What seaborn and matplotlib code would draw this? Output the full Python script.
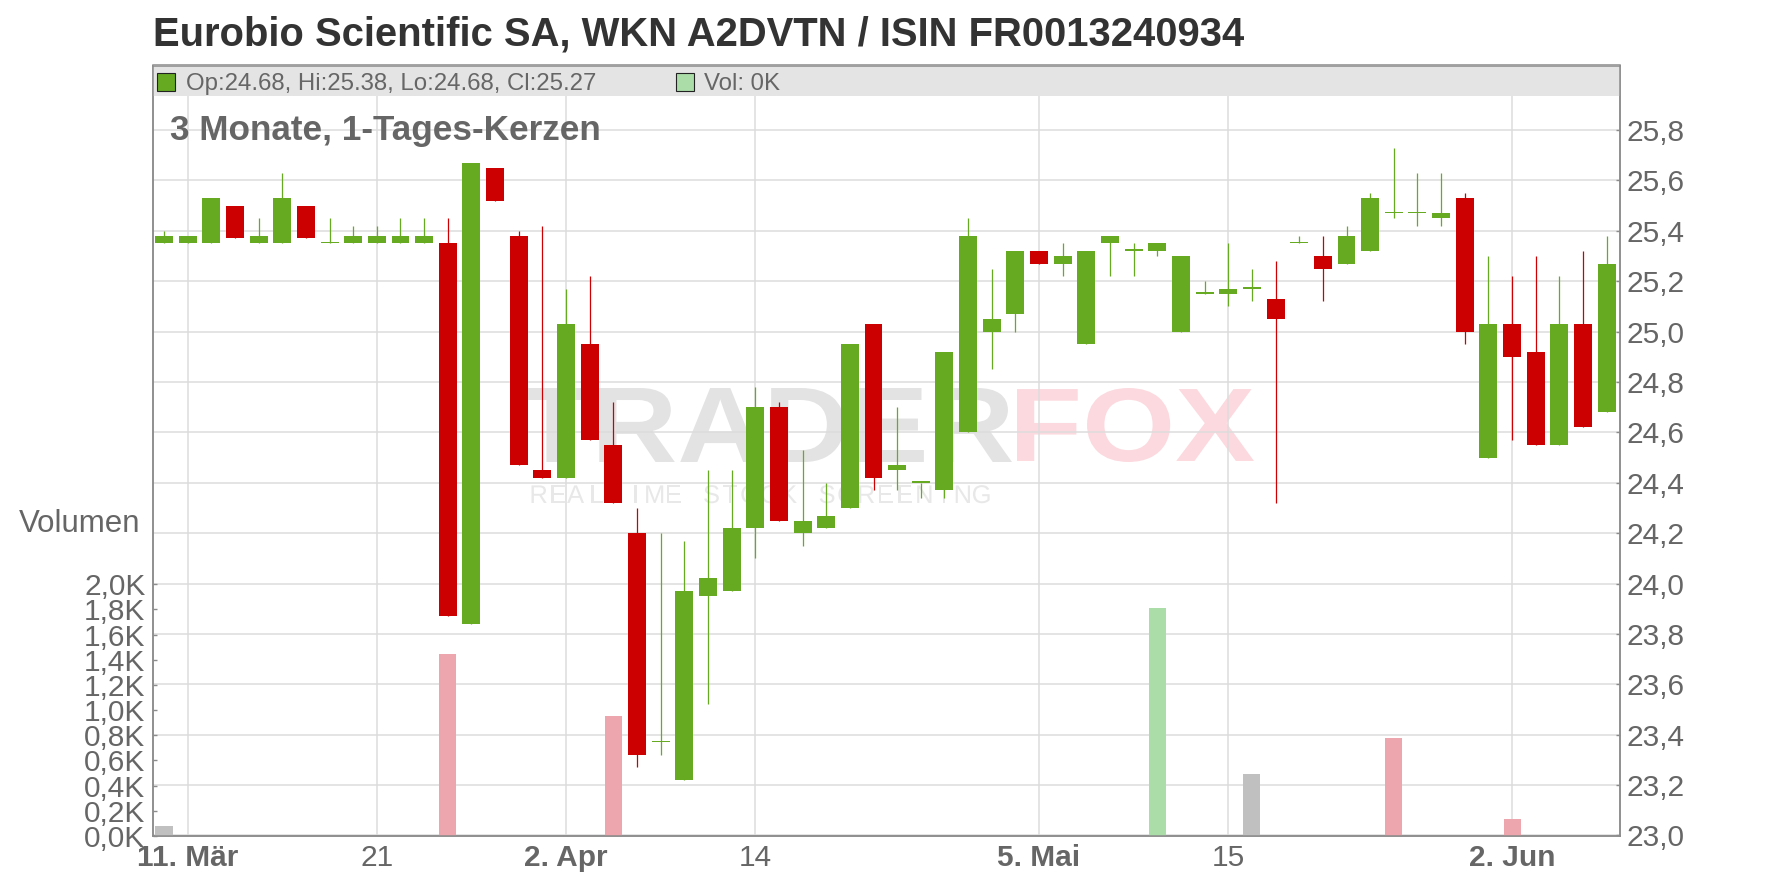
import numpy as np
import pandas as pd
import matplotlib
matplotlib.use("Agg")
import matplotlib.pyplot as plt
import seaborn as sns
from matplotlib.patches import Rectangle, PathPatch
from matplotlib.textpath import TextPath
from matplotlib.font_manager import FontProperties
from matplotlib.transforms import Affine2D

# ---------------- data ----------------
opens = [25.35, 25.35, 25.35, 25.50, 25.35, 25.35, 25.50, 25.35, 25.35, 25.35,
         25.35, 25.35, 25.35, 23.84, 25.65, 25.38, 24.45, 24.42, 24.95, 24.55,
         24.20, 23.37, 23.22, 23.95, 23.97, 24.22, 24.70, 24.20, 24.22, 24.30,
         25.03, 24.45, 24.40, 24.37, 24.60, 25.00, 25.07, 25.32, 25.27, 24.95,
         25.35, 25.32, 25.32, 25.00, 25.15, 25.15, 25.17, 25.13, 25.35, 25.30,
         25.27, 25.32, 25.47, 25.47, 25.45, 25.53, 24.50, 25.03, 24.92, 24.55,
         25.03, 24.68]
highs = [25.40, 25.38, 25.53, 25.50, 25.45, 25.63, 25.50, 25.45, 25.42, 25.42,
         25.45, 25.45, 25.45, 25.67, 25.65, 25.40, 25.42, 25.17, 25.22, 24.72,
         24.30, 24.20, 24.17, 24.45, 24.45, 24.78, 24.72, 24.53, 24.40, 24.95,
         25.03, 24.70, 24.40, 24.92, 25.45, 25.25, 25.32, 25.32, 25.35, 25.32,
         25.38, 25.35, 25.35, 25.30, 25.20, 25.35, 25.25, 25.28, 25.38, 25.38,
         25.42, 25.55, 25.73, 25.63, 25.63, 25.55, 25.30, 25.22, 25.30, 25.22,
         25.32, 25.38]
lows = [25.35, 25.35, 25.35, 25.37, 25.35, 25.35, 25.37, 25.35, 25.35, 25.35,
        25.35, 25.35, 23.87, 23.84, 25.52, 24.47, 24.42, 24.42, 24.57, 24.32,
        23.27, 23.32, 23.22, 23.52, 23.97, 24.10, 24.25, 24.15, 24.22, 24.30,
        24.37, 24.37, 24.34, 24.34, 24.60, 24.85, 25.00, 25.27, 25.22, 24.95,
        25.22, 25.22, 25.30, 25.00, 25.15, 25.10, 25.12, 24.32, 25.35, 25.12,
        25.27, 25.32, 25.45, 25.42, 25.42, 24.95, 24.50, 24.57, 24.55, 24.55,
        24.62, 24.68]
closes = [25.38, 25.38, 25.53, 25.37, 25.38, 25.53, 25.37, 25.35, 25.38, 25.38,
          25.38, 25.38, 23.87, 25.67, 25.52, 24.47, 24.42, 25.03, 24.57, 24.32,
          23.32, 23.37, 23.97, 24.02, 24.22, 24.70, 24.25, 24.25, 24.27, 24.95,
          24.42, 24.47, 24.40, 24.92, 25.38, 25.05, 25.32, 25.27, 25.30, 25.32,
          25.38, 25.32, 25.35, 25.30, 25.15, 25.17, 25.17, 25.05, 25.35, 25.25,
          25.38, 25.53, 25.47, 25.47, 25.47, 25.00, 25.03, 24.90, 24.55, 25.03,
          24.62, 25.27]

vol_days = [0, 12, 19, 42, 46, 52, 57]
vol_values = [80, 1450, 950, 1810, 490, 780, 135]

date_ticks = [1, 9, 17, 25, 37, 45, 57]
date_labels = ["11. Mär", "21", "2. Apr", "14", "5. Mai", "15", "2. Jun"]
date_bold = [True, False, True, False, True, False, True]

price_ticks = [23.0, 23.2, 23.4, 23.6, 23.8, 24.0, 24.2, 24.4, 24.6, 24.8,
               25.0, 25.2, 25.4, 25.6, 25.8]
vol_ticks = [0, 200, 400, 600, 800, 1000, 1200, 1400, 1600, 1800, 2000]

title = "Eurobio Scientific SA, WKN A2DVTN / ISIN FR0013240934"
subtitle = "3 Monate, 1-Tages-Kerzen"
legend_ohlc = "Op:24.68, Hi:25.38, Lo:24.68, Cl:25.27"
legend_vol = "Vol: 0K"
vol_label = "Volumen"

# ---------------- style ----------------
sns.set_style("white")
plt.rcParams['font.family'] = ['Liberation Sans', 'DejaVu Sans']

GREEN = "#66aa22"
RED = "#cc0000"
VOL_COLORS = {"up": "#aadda8", "down": "#eda5ae", "flat": "#c0c0c0"}
GRID = "#dcdcdc"
SPINE = "#8c8c8c"
TXT = "#666666"

W, H = 1776, 888
fig = plt.figure(figsize=(W / 100, H / 100), dpi=100)

L, R, T, B = 152.5, 1620, 65.5, 836
ax = fig.add_axes([L / W, 1 - B / H, (R - L) / W, (B - T) / H])

n = len(opens)
idx = np.arange(n)
o = np.array(opens); c = np.array(closes)
hi = np.array(highs); lo = np.array(lows)
up = c >= o
cols = np.where(up, GREEN, RED)

# grid
ax.set_yticks(price_ticks)
ax.set_xticks(date_ticks)
ax.grid(True, color=GRID, linewidth=1.1, zorder=0)
ax.set_axisbelow(True)

# watermark (layout only, drawn beneath the axes)
def wm(text, x0, x1, ytop, ybot, color, weight='bold'):
    tp = TextPath((0, 0), text, size=1, prop=FontProperties(family='Liberation Sans', weight=weight))
    ext = tp.get_extents()
    sx = (x1 - x0) / ext.width
    sy = (ybot - ytop) / ext.height
    tr = Affine2D().translate(-ext.x0, -ext.y0).scale(sx / 100, sy / 100).translate(x0 / 100, (H - ybot) / 100)
    fig.patches.append(PathPatch(tp, transform=tr + fig.dpi_scale_trans, facecolor=color,
                                 edgecolor='none', zorder=-5))

wm("TRADER", 520, 1012, 388, 462, "#e3e3e3")
wm("FOX", 1017, 1254, 388, 462, "#fcd9de")
letters = "REALTIME STOCK SCREENING"
x = 537
step = (980 - 537) / (len(letters) - 1)
for ch in letters:
    if ch != " ":
        tp = TextPath((0, 0), ch, size=1, prop=FontProperties(family='Liberation Sans'))
        e = tp.get_extents()
        s = 18.3 / 0.716
        tr = Affine2D().scale(s / 100, s / 100).translate((x - e.width * s / 2) / 100, (H - 503) / 100)
        fig.patches.append(PathPatch(tp, transform=tr + fig.dpi_scale_trans, facecolor="#e8e8e8",
                                     edgecolor='none', zorder=-5))
    x += step

ax.patch.set_alpha(0)
fig.patch.set_facecolor("white")

# candles
ax.vlines(idx, lo, hi, colors=cols, linewidth=0.9, zorder=3)
body_h = np.maximum(np.abs(c - o), 0.006)
ax.bar(idx, body_h, bottom=np.minimum(o, c), width=0.76, color=cols, linewidth=0, zorder=4)

ax.set_xlim(-0.486, 61.564)
ax.set_ylim(22.998, 26.056)

# legend band
ax.add_patch(Rectangle((0, (B - 95.7) / (B - T)), 1, 1 - (B - 95.7) / (B - T),
                       transform=ax.transAxes, facecolor="#e4e4e4", edgecolor='none', zorder=5))

# volume axis
axv = ax.twinx()
vols = np.zeros(n)
vols[vol_days] = vol_values
prev = np.r_[np.nan, c[:-1]]
vdir = np.where(np.isnan(prev) | np.isclose(c, prev), "flat", np.where(c > prev, "up", "down"))
df = pd.DataFrame({"day": idx, "vol": vols, "dir": vdir})
sns.barplot(data=df, x="day", y="vol", hue="dir", palette=VOL_COLORS, native_scale=True,
            dodge=False, width=0.72, errorbar=None, legend=False, ax=axv, linewidth=0,
            saturation=1)
axv.set_xlim(-0.486, 61.564)
axv.set_ylim(0, (B - T) * 2000 / 251.7)
axv.set_xlabel(""); axv.set_ylabel("")

# ticks
ax.yaxis.tick_right()
ax.set_yticklabels([f"{v:.1f}".replace(".", ",") for v in price_ticks])
ax.tick_params(axis='y', direction='in', length=3.2, width=1, color=SPINE, pad=5,
               labelsize=21.5, labelcolor=TXT, right=True, left=False)
ax.set_xticklabels(date_labels)
for lab, b in zip(ax.get_xticklabels(), date_bold):
    lab.set_fontweight('bold' if b else 'normal')
ax.tick_params(axis='x', direction='out', length=2.5, width=1, color=SPINE, pad=3,
               labelsize=21.5, labelcolor=TXT)

axv.yaxis.tick_left()
axv.set_yticks(vol_ticks)
axv.set_yticklabels([f"{v/1000:.1f}K".replace(".", ",") for v in vol_ticks])
axv.tick_params(axis='y', direction='in', length=3.2, width=1, color=SPINE, pad=5,
                labelsize=21.5, labelcolor=TXT, left=True, right=False)
axv.grid(False)

for a in (ax, axv):
    for s in a.spines.values():
        s.set_color(SPINE)
        s.set_linewidth(1.1)
        s.set_visible(True)

# texts
fig.text(153 / W, 1 - 45.7 / H, title, fontsize=28.8, fontweight='bold', color="#333333",
         ha='left', va='baseline')
fig.text(170 / W, 1 - 140 / H, subtitle, fontsize=25.3, fontweight='bold', color=TXT,
         ha='left', va='baseline', zorder=6)
fig.patches.append(Rectangle((157.3 / W, 1 - 90.7 / H), 18 / W, 18 / H, transform=fig.transFigure,
                             facecolor=GREEN, edgecolor="#222222", linewidth=0.8, zorder=7))
fig.text(186 / W, 1 - 90 / H, legend_ohlc, fontsize=17.3, color=TXT, ha='left', va='baseline', zorder=7)
fig.patches.append(Rectangle((676 / W, 1 - 90.7 / H), 18 / W, 18 / H, transform=fig.transFigure,
                             facecolor=VOL_COLORS["up"], edgecolor="#222222", linewidth=0.8, zorder=7))
fig.text(704 / W, 1 - 90 / H, legend_vol, fontsize=17.3, color=TXT, ha='left', va='baseline', zorder=7)
fig.text(18.7 / W, 1 - 531.7 / H, vol_label, fontsize=22.5, color=TXT, ha='left', va='baseline')

fig.savefig("out.png", dpi=100, facecolor="white")
